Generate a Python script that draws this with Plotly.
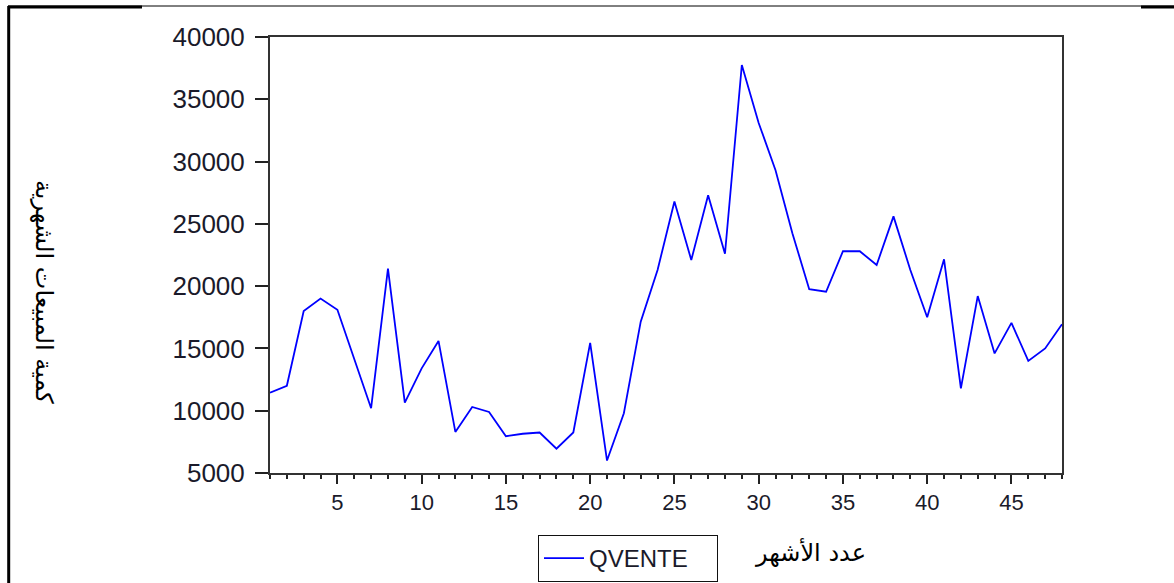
import plotly.graph_objects as go

months = list(range(1, 49))
qvente = [11450, 12000, 18000, 19000, 18100, 14100, 10200, 21400, 10650, 13400,
          15600, 8300, 10300, 9900, 7950, 8150, 8250, 6950, 8250, 15450,
          6000, 9800, 17150, 21300, 26800, 22100, 27300, 22600, 37750, 33100,
          29300, 24250, 19750, 19550, 22800, 22800, 21700, 25600, 21300, 17500,
          22150, 11800, 19200, 14600, 17050, 14000, 15000, 16950]
series_name = "QVENTE"
y_title = "كمية المبيعات الشهرية"
x_title = "عدد الأشهر"
y_ticks = [5000, 10000, 15000, 20000, 25000, 30000, 35000, 40000]

W, H = 1174, 583
L, R, T, B = 270, 1062, 37, 473


def px(x):
    return (x - L) / (R - L)


def py(y):
    return (B - y) / (B - T)


fig = go.Figure()
fig.add_trace(go.Scatter(x=months, y=qvente, mode="lines", name=series_name,
                         line=dict(color="#0000ff", width=1.8)))

fig.update_layout(
    width=W, height=H,
    margin=dict(l=L, r=W - R, t=T, b=H - B),
    paper_bgcolor="white", plot_bgcolor="white",
    font=dict(family="Liberation Sans, Arial, sans-serif", color="#1a1a2a"),
    showlegend=True,
    legend=dict(xref="container", yref="container",
                x=538 / W, y=1 - 535 / H, xanchor="left", yanchor="top",
                orientation="h", entrywidth=123,
                bordercolor="#111111", borderwidth=1, bgcolor="white",
                font=dict(size=24, family="Liberation Sans, Arial, sans-serif", color="#1a1a2a"),
                itemwidth=40),
)
fig.update_xaxes(range=[1, 48], tick0=0, dtick=5, ticks="outside", ticklen=9,
                 tickcolor="#222", tickwidth=1.5,
                 showline=True, linecolor="#333", linewidth=2, mirror=True,
                 showgrid=False, zeroline=False,
                 tickfont=dict(size=22),
                 minor=dict(ticks="outside", ticklen=4, dtick=1, tick0=0,
                            tickcolor="#222", tickwidth=1.5, showgrid=False))
fig.update_yaxes(range=[5000, 40000], tickvals=y_ticks, tickformat="d",
                 ticks="outside", ticklen=13,
                 tickcolor="#222", tickwidth=1.5,
                 showline=True, linecolor="#333", linewidth=2, mirror=True,
                 showgrid=False, zeroline=False,
                 tickfont=dict(size=26), ticklabelstandoff=5)

fig.add_annotation(x=px(44), y=py(292), xref="paper", yref="paper", text=y_title,
                   xanchor="center", yanchor="middle",
                   textangle=90, showarrow=False,
                   font=dict(size=24, family="DejaVu Sans", color="black"))
fig.add_annotation(x=px(810), y=py(552), xref="paper", yref="paper", text=x_title,
                   xanchor="center", yanchor="middle",
                   showarrow=False,
                   font=dict(size=24, family="DejaVu Sans", color="black"))

# outer frame lines
shapes = [
    dict(type="line", xref="paper", yref="paper", x0=px(8.7), x1=px(8.7),
         y0=py(6), y1=py(583), line=dict(color="black", width=3)),
    dict(type="line", xref="paper", yref="paper", x0=px(8), x1=px(1174),
         y0=py(6), y1=py(6), line=dict(color="black", width=1)),
    dict(type="line", xref="paper", yref="paper", x0=px(8), x1=px(142),
         y0=py(7), y1=py(7), line=dict(color="black", width=3)),
    dict(type="line", xref="paper", yref="paper", x0=px(1141), x1=px(1174),
         y0=py(7), y1=py(7), line=dict(color="black", width=3)),
]
fig.update_layout(shapes=shapes)

fig.write_html("out.html", config={"displayModeBar": False},
               post_script="document.body.style.margin='0';document.body.style.overflow='hidden';")
